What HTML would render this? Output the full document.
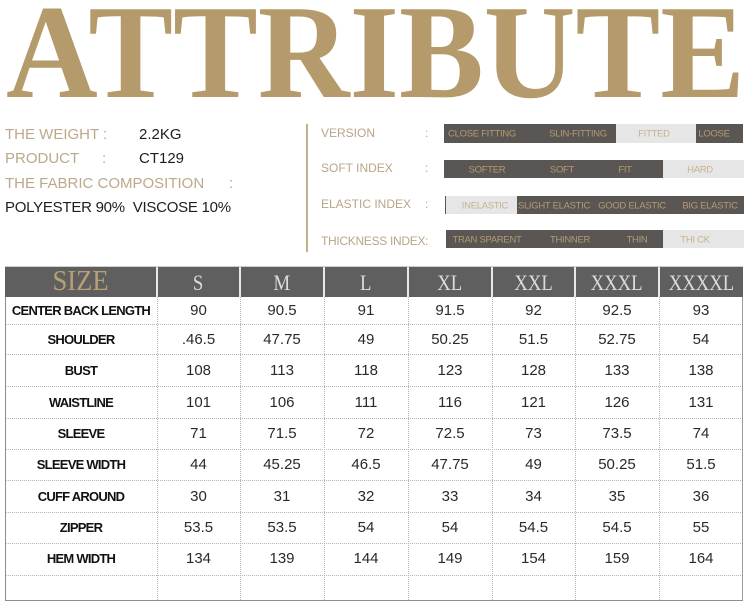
<!DOCTYPE html>
<html><head><meta charset="utf-8"><style>
*{margin:0;padding:0;box-sizing:border-box}
html,body{width:750px;height:605px;background:#fff;overflow:hidden;position:relative;font-family:"Liberation Sans",sans-serif}
.a{position:absolute}
.t{position:absolute;white-space:nowrap;line-height:1}
.lab{color:#bba98b;font-size:15px}
.val{color:#1e1e1e;font-size:15px}
.rl{color:#b9a587;font-size:12px}
.bt{position:absolute;white-space:nowrap;font-size:9.5px;letter-spacing:-0.3px;line-height:1;transform:translate(-50%,-50%);color:#b39b72}
.bl{color:#c9b28f}
.hl{position:absolute;left:5px;width:738px;height:0;border-top:1px dotted #b4b4b4}
.vl{position:absolute;top:297px;height:303px;width:0;border-left:1px dotted #b4b4b4}
.c{position:absolute;display:flex;align-items:center;justify-content:center;white-space:nowrap;line-height:1}
.rh{font-weight:bold;font-size:13px;letter-spacing:-0.75px;color:#111}
.n{font-size:15px;color:#2a2a2a}
.hd{color:#dcdcdc;font-family:"Liberation Serif",serif;font-size:22px}
.hd span{display:inline-block;transform:scaleX(0.85)}
</style></head><body>

<svg class="a" style="left:0;top:0" width="750" height="110">
<text x="6" y="97" font-family="Liberation Serif, serif" font-weight="bold" font-size="134" fill="#b59a6b" textLength="739" lengthAdjust="spacingAndGlyphs">ATTRIBUTE</text>
</svg>

<!-- left info -->
<div class="t lab" style="left:5px;top:127px">THE WEIGHT :</div>
<div class="t val" style="left:139px;top:127px">2.2KG</div>
<div class="t lab" style="left:5px;top:151px">PRODUCT</div>
<div class="t lab" style="left:102px;top:151px">:</div>
<div class="t val" style="left:139px;top:151px">CT129</div>
<div class="t lab" style="left:5px;top:176px">THE FABRIC COMPOSITION</div>
<div class="t lab" style="left:229px;top:176px">:</div>
<div class="t val" style="left:5px;top:200px;letter-spacing:-0.25px">POLYESTER 90%&nbsp; VISCOSE 10%</div>

<div class="a" style="left:306px;top:124px;width:2px;height:128px;background:#c4ad88"></div>

<!-- right labels -->
<div class="t rl" style="left:321px;top:127px">VERSION</div>
<div class="t rl" style="left:425px;top:127px">:</div>
<div class="t rl" style="left:321px;top:162px">SOFT INDEX</div>
<div class="t rl" style="left:425px;top:162px">:</div>
<div class="t rl" style="left:321px;top:198px">ELASTIC INDEX</div>
<div class="t rl" style="left:425px;top:198px">:</div>
<div class="t rl" style="left:321px;top:235px;letter-spacing:-0.3px">THICKNESS INDEX:</div>

<!-- version bar -->
<div class="a" style="left:444px;top:124px;width:172px;height:19px;background:#5a5654"></div>
<div class="a" style="left:616px;top:124px;width:80px;height:19px;background:#e6e6e6"></div>
<div class="a" style="left:696px;top:124px;width:47px;height:19px;background:#5a5654"></div>
<div class="bt" style="left:482px;top:134px">CLOSE FITTING</div>
<div class="bt" style="left:578px;top:134px">SLIN-FITTING</div>
<div class="bt bl" style="left:654px;top:134px">FITTED</div>
<div class="bt" style="left:714px;top:134px">LOOSE</div>

<!-- soft bar -->
<div class="a" style="left:444px;top:160px;width:219px;height:18px;background:#5a5654"></div>
<div class="a" style="left:663px;top:160px;width:81px;height:18px;background:#e6e6e6"></div>
<div class="bt" style="left:487px;top:170px">SOFTER</div>
<div class="bt" style="left:562px;top:170px">SOFT</div>
<div class="bt" style="left:625px;top:170px">FIT</div>
<div class="bt bl" style="left:700px;top:170px">HARD</div>

<!-- elastic bar -->
<div class="a" style="left:445px;top:196px;width:1px;height:18px;background:#5a5654"></div>
<div class="a" style="left:446px;top:196px;width:71px;height:18px;background:#e6e6e6"></div>
<div class="a" style="left:517px;top:196px;width:227px;height:18px;background:#5a5654"></div>
<div class="bt bl" style="left:485px;top:206px">INELASTIC</div>
<div class="bt" style="left:554px;top:206px">SLIGHT ELASTIC</div>
<div class="bt" style="left:632px;top:206px">GOOD ELASTIC</div>
<div class="bt" style="left:710px;top:206px">BIG ELASTIC</div>

<!-- thickness bar -->
<div class="a" style="left:446px;top:230px;width:217px;height:18px;background:#5a5654"></div>
<div class="a" style="left:663px;top:230px;width:81px;height:18px;background:#e6e6e6"></div>
<div class="bt" style="left:487px;top:240px">TRAN SPARENT</div>
<div class="bt" style="left:570px;top:240px">THINNER</div>
<div class="bt" style="left:637px;top:240px">THIN</div>
<div class="bt bl" style="left:695px;top:240px">THI CK</div>

<!-- table header -->
<div class="a" style="left:5px;top:266px;width:738px;height:1px;background:#cfcfcf"></div>
<div class="a" style="left:5px;top:267px;width:738px;height:30px;background:#5f5f5f"></div>
<div class="a" style="left:156px;top:267px;width:2px;height:30px;background:#e8e8e8"></div>
<div class="a" style="left:239px;top:267px;width:2px;height:30px;background:#e8e8e8"></div>
<div class="a" style="left:323px;top:267px;width:2px;height:30px;background:#e8e8e8"></div>
<div class="a" style="left:407px;top:267px;width:2px;height:30px;background:#e8e8e8"></div>
<div class="a" style="left:491px;top:267px;width:2px;height:30px;background:#e8e8e8"></div>
<div class="a" style="left:574px;top:267px;width:2px;height:30px;background:#e8e8e8"></div>
<div class="a" style="left:658px;top:267px;width:2px;height:30px;background:#e8e8e8"></div>

<div class="c" style="left:5px;top:267px;width:152px;height:30px;font-family:'Liberation Serif',serif;font-size:28px;color:#b8a073"><span style="display:inline-block;transform:scaleX(0.95)">SIZE</span></div>
<div class="c hd" style="left:157px;top:268px;width:83px;height:30px"><span>S</span></div>
<div class="c hd" style="left:240px;top:268px;width:84px;height:30px"><span>M</span></div>
<div class="c hd" style="left:324px;top:268px;width:84px;height:30px"><span>L</span></div>
<div class="c hd" style="left:408px;top:268px;width:84px;height:30px"><span>XL</span></div>
<div class="c hd" style="left:492px;top:268px;width:83px;height:30px"><span>XXL</span></div>
<div class="c hd" style="left:575px;top:268px;width:84px;height:30px"><span>XXXL</span></div>
<div class="c hd" style="left:659px;top:268px;width:84px;height:30px"><span>XXXXL</span></div>

<!-- grid lines -->
<div class="hl" style="top:324px"></div>
<div class="hl" style="top:354px"></div>
<div class="hl" style="top:386px"></div>
<div class="hl" style="top:418px"></div>
<div class="hl" style="top:449px"></div>
<div class="hl" style="top:480px"></div>
<div class="hl" style="top:512px"></div>
<div class="hl" style="top:543px"></div>
<div class="hl" style="top:575px"></div>
<div class="vl" style="left:157px"></div>
<div class="vl" style="left:240px"></div>
<div class="vl" style="left:324px"></div>
<div class="vl" style="left:408px"></div>
<div class="vl" style="left:492px"></div>
<div class="vl" style="left:575px"></div>
<div class="vl" style="left:659px"></div>
<div class="a" style="left:5px;top:297px;width:1px;height:304px;background:#8e8e8e"></div>
<div class="a" style="left:742px;top:297px;width:1px;height:304px;background:#9a9a9a"></div>
<div class="a" style="left:5px;top:600px;width:738px;height:1px;background:#8e8e8e"></div>

<!-- rows -->
<div class="c rh" style="left:5px;top:297px;width:152px;height:27px">CENTER BACK LENGTH</div>
<div class="c n" style="left:157px;top:297px;width:83px;height:27px">90</div>
<div class="c n" style="left:240px;top:297px;width:84px;height:27px">90.5</div>
<div class="c n" style="left:324px;top:297px;width:84px;height:27px">91</div>
<div class="c n" style="left:408px;top:297px;width:84px;height:27px">91.5</div>
<div class="c n" style="left:492px;top:297px;width:83px;height:27px">92</div>
<div class="c n" style="left:575px;top:297px;width:84px;height:27px">92.5</div>
<div class="c n" style="left:659px;top:297px;width:84px;height:27px">93</div>

<div class="c rh" style="left:5px;top:324px;width:152px;height:30px">SHOULDER</div>
<div class="c n" style="left:157px;top:324px;width:83px;height:30px">.46.5</div>
<div class="c n" style="left:240px;top:324px;width:84px;height:30px">47.75</div>
<div class="c n" style="left:324px;top:324px;width:84px;height:30px">49</div>
<div class="c n" style="left:408px;top:324px;width:84px;height:30px">50.25</div>
<div class="c n" style="left:492px;top:324px;width:83px;height:30px">51.5</div>
<div class="c n" style="left:575px;top:324px;width:84px;height:30px">52.75</div>
<div class="c n" style="left:659px;top:324px;width:84px;height:30px">54</div>

<div class="c rh" style="left:5px;top:354px;width:152px;height:32px">BUST</div>
<div class="c n" style="left:157px;top:354px;width:83px;height:32px">108</div>
<div class="c n" style="left:240px;top:354px;width:84px;height:32px">113</div>
<div class="c n" style="left:324px;top:354px;width:84px;height:32px">118</div>
<div class="c n" style="left:408px;top:354px;width:84px;height:32px">123</div>
<div class="c n" style="left:492px;top:354px;width:83px;height:32px">128</div>
<div class="c n" style="left:575px;top:354px;width:84px;height:32px">133</div>
<div class="c n" style="left:659px;top:354px;width:84px;height:32px">138</div>

<div class="c rh" style="left:5px;top:386px;width:152px;height:32px">WAISTLINE</div>
<div class="c n" style="left:157px;top:386px;width:83px;height:32px">101</div>
<div class="c n" style="left:240px;top:386px;width:84px;height:32px">106</div>
<div class="c n" style="left:324px;top:386px;width:84px;height:32px">111</div>
<div class="c n" style="left:408px;top:386px;width:84px;height:32px">116</div>
<div class="c n" style="left:492px;top:386px;width:83px;height:32px">121</div>
<div class="c n" style="left:575px;top:386px;width:84px;height:32px">126</div>
<div class="c n" style="left:659px;top:386px;width:84px;height:32px">131</div>

<div class="c rh" style="left:5px;top:418px;width:152px;height:31px">SLEEVE</div>
<div class="c n" style="left:157px;top:418px;width:83px;height:31px">71</div>
<div class="c n" style="left:240px;top:418px;width:84px;height:31px">71.5</div>
<div class="c n" style="left:324px;top:418px;width:84px;height:31px">72</div>
<div class="c n" style="left:408px;top:418px;width:84px;height:31px">72.5</div>
<div class="c n" style="left:492px;top:418px;width:83px;height:31px">73</div>
<div class="c n" style="left:575px;top:418px;width:84px;height:31px">73.5</div>
<div class="c n" style="left:659px;top:418px;width:84px;height:31px">74</div>

<div class="c rh" style="left:5px;top:449px;width:152px;height:31px">SLEEVE WIDTH</div>
<div class="c n" style="left:157px;top:449px;width:83px;height:31px">44</div>
<div class="c n" style="left:240px;top:449px;width:84px;height:31px">45.25</div>
<div class="c n" style="left:324px;top:449px;width:84px;height:31px">46.5</div>
<div class="c n" style="left:408px;top:449px;width:84px;height:31px">47.75</div>
<div class="c n" style="left:492px;top:449px;width:83px;height:31px">49</div>
<div class="c n" style="left:575px;top:449px;width:84px;height:31px">50.25</div>
<div class="c n" style="left:659px;top:449px;width:84px;height:31px">51.5</div>

<div class="c rh" style="left:5px;top:480px;width:152px;height:32px">CUFF AROUND</div>
<div class="c n" style="left:157px;top:480px;width:83px;height:32px">30</div>
<div class="c n" style="left:240px;top:480px;width:84px;height:32px">31</div>
<div class="c n" style="left:324px;top:480px;width:84px;height:32px">32</div>
<div class="c n" style="left:408px;top:480px;width:84px;height:32px">33</div>
<div class="c n" style="left:492px;top:480px;width:83px;height:32px">34</div>
<div class="c n" style="left:575px;top:480px;width:84px;height:32px">35</div>
<div class="c n" style="left:659px;top:480px;width:84px;height:32px">36</div>

<div class="c rh" style="left:5px;top:512px;width:152px;height:31px">ZIPPER</div>
<div class="c n" style="left:157px;top:512px;width:83px;height:31px">53.5</div>
<div class="c n" style="left:240px;top:512px;width:84px;height:31px">53.5</div>
<div class="c n" style="left:324px;top:512px;width:84px;height:31px">54</div>
<div class="c n" style="left:408px;top:512px;width:84px;height:31px">54</div>
<div class="c n" style="left:492px;top:512px;width:83px;height:31px">54.5</div>
<div class="c n" style="left:575px;top:512px;width:84px;height:31px">54.5</div>
<div class="c n" style="left:659px;top:512px;width:84px;height:31px">55</div>

<div class="c rh" style="left:5px;top:543px;width:152px;height:30px">HEM WIDTH</div>
<div class="c n" style="left:157px;top:543px;width:83px;height:30px">134</div>
<div class="c n" style="left:240px;top:543px;width:84px;height:30px">139</div>
<div class="c n" style="left:324px;top:543px;width:84px;height:30px">144</div>
<div class="c n" style="left:408px;top:543px;width:84px;height:30px">149</div>
<div class="c n" style="left:492px;top:543px;width:83px;height:30px">154</div>
<div class="c n" style="left:575px;top:543px;width:84px;height:30px">159</div>
<div class="c n" style="left:659px;top:543px;width:84px;height:30px">164</div>

</body></html>
